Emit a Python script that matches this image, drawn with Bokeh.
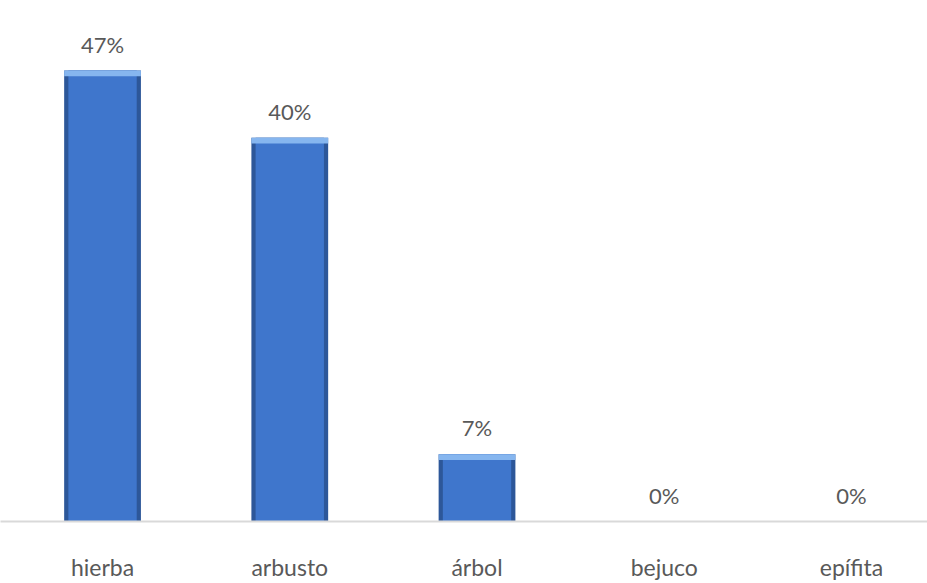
from bokeh.plotting import figure
from bokeh.models import ColumnDataSource, Range1d, FixedTicker
from bokeh.core.properties import value
from bokeh.embed import file_html
from bokeh.resources import INLINE

categories = ["hierba", "arbusto", "árbol", "bejuco", "epífita"]
percent = [47, 40, 7, 0, 0]
labels = [f"{v}%" for v in percent]

xs = list(range(len(categories)))
src = ColumnDataSource(dict(
    x=xs, top=percent, lab=labels,
    hl=[max(v - 0.6, 0) for v in percent],
))

p = figure(width=927, height=583, output_backend="svg", toolbar_location=None,
           x_range=Range1d(-0.545, 4.406), y_range=Range1d(0, 54.3),
           min_border_left=0, min_border_right=0, min_border_top=0, min_border_bottom=0)
p.outline_line_color = None
p.background_fill_color = "white"
p.border_fill_color = "white"
p.grid.visible = False
p.yaxis.visible = False

# bar body: dark edges, mid-blue inside, light top strip
p.vbar(x="x", top="top", bottom=0, width=0.41, source=src,
       fill_color="#2d5799", line_color=None)
p.vbar(x="x", top="top", bottom=0, width=0.365, source=src,
       fill_color="#3f76cc", line_color=None)
p.vbar(x="x", top="top", bottom="hl", width=0.41, source=src,
       fill_color="#86b6ef", line_color=None)
p.text(x="x", y="top", text="lab", source=src, text_align="center",
       text_baseline="bottom", y_offset=-13, text_color="#595959",
       text_font=value("Lato"), text_font_size="22px")

ax = p.xaxis[0]
ax.ticker = FixedTicker(ticks=xs)
ax.major_label_overrides = {i: c for i, c in enumerate(categories)}
ax.axis_line_color = "#d9d9d9"
ax.axis_line_width = 2
ax.major_tick_line_color = None
ax.minor_tick_line_color = None
ax.major_label_standoff = 25
ax.major_label_text_color = "#595959"
ax.major_label_text_font = "Lato"
ax.major_label_text_font_size = "23px"

open("out.html", "w").write(file_html(p, INLINE))
